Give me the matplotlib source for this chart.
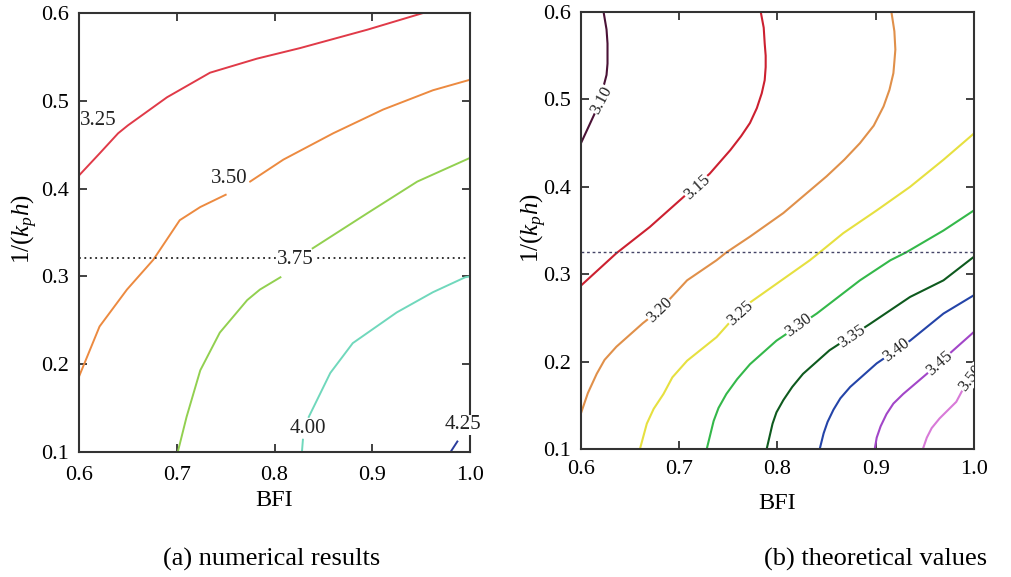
import matplotlib
matplotlib.use("Agg")
import matplotlib.pyplot as plt

plt.rcParams['font.family'] = ['Liberation Serif', 'DejaVu Serif']
plt.rcParams['mathtext.fontset'] = 'custom'
plt.rcParams['mathtext.rm'] = 'Liberation Serif'
plt.rcParams['mathtext.it'] = 'Liberation Serif:italic'

# ---------------- data: panel (a) numerical results ----------------
a_levels = ["3.25", "3.50", "3.75", "4.00", "4.25"]
a_colors = ["#e03a48", "#ec8a40", "#92d050", "#70d8bc", "#2a3c9c"]
a_325_x = [0.600, 0.621, 0.640, 0.650, 0.690, 0.734, 0.782, 0.826, 0.895, 0.952]
a_325_y = [0.415, 0.440, 0.463, 0.472, 0.504, 0.532, 0.548, 0.560, 0.581, 0.600]
a_350_x1 = [0.600, 0.621, 0.649, 0.676, 0.703, 0.724, 0.750]
a_350_y1 = [0.186, 0.243, 0.285, 0.319, 0.364, 0.379, 0.393]
a_350_x2 = [0.775, 0.809, 0.860, 0.911, 0.962, 1.000]
a_350_y2 = [0.408, 0.433, 0.463, 0.490, 0.512, 0.524]
a_375_x1 = [0.701, 0.710, 0.724, 0.744, 0.772, 0.785, 0.806]
a_375_y1 = [0.100, 0.140, 0.193, 0.236, 0.273, 0.285, 0.299]
a_375_x2 = [0.839, 0.895, 0.946, 1.000]
a_375_y2 = [0.332, 0.372, 0.408, 0.435]
a_400_x1 = [0.828, 0.829]
a_400_y1 = [0.100, 0.114]
a_400_x2 = [0.835, 0.857, 0.880, 0.925, 0.962, 0.995, 1.000]
a_400_y2 = [0.140, 0.190, 0.224, 0.259, 0.282, 0.299, 0.300]
a_425_x = [0.980, 0.987]
a_425_y = [0.100, 0.112]
a_label_x = [0.620, 0.754, 0.821, 0.834, 0.993]
a_label_y = [0.478, 0.412, 0.319, 0.127, 0.131]
a_ref_y = 0.321

# ---------------- data: panel (b) theoretical values ----------------
b_levels = ["3.10", "3.15", "3.20", "3.25", "3.30", "3.35", "3.40", "3.45", "3.50"]
b_colors = ["#4a1236", "#cc2030", "#e0904a", "#e6e040", "#34b84a",
            "#0e5a1e", "#2444a8", "#a246c8", "#d87ad8"]
b_x = [
    [0.623, 0.626, 0.627, 0.627, 0.626, 0.623, 0.619, 0.614, 0.607, 0.600],
    [0.783, 0.786, 0.787, 0.788, 0.788, 0.787, 0.784, 0.779, 0.772, 0.763,
     0.752, 0.731, 0.701, 0.670, 0.636, 0.600],
    [0.916, 0.919, 0.920, 0.919, 0.918, 0.914, 0.908, 0.898, 0.884, 0.868,
     0.850, 0.806, 0.772, 0.748, 0.738, 0.708, 0.680, 0.663, 0.636, 0.624,
     0.616, 0.607, 0.600],
    [1.000, 0.969, 0.935, 0.901, 0.867, 0.843, 0.833, 0.799, 0.765, 0.738,
     0.708, 0.693, 0.684, 0.674, 0.667, 0.660],
    [1.000, 0.969, 0.931, 0.915, 0.884, 0.840, 0.799, 0.772, 0.759, 0.748,
     0.740, 0.735, 0.728],
    [1.000, 0.969, 0.935, 0.894, 0.853, 0.826, 0.815, 0.806, 0.799, 0.795, 0.789],
    [1.000, 0.969, 0.935, 0.901, 0.874, 0.864, 0.857, 0.851, 0.847, 0.843],
    [1.000, 0.979, 0.952, 0.928, 0.918, 0.911, 0.905, 0.901, 0.899],
    [1.000, 0.982, 0.965, 0.957, 0.952, 0.948],
]
b_y = [
    [0.600, 0.580, 0.564, 0.541, 0.528, 0.515, 0.500, 0.484, 0.467, 0.450],
    [0.600, 0.582, 0.564, 0.550, 0.537, 0.522, 0.507, 0.490, 0.473, 0.458,
     0.442, 0.415, 0.385, 0.354, 0.324, 0.287],
    [0.600, 0.578, 0.557, 0.543, 0.530, 0.511, 0.492, 0.470, 0.450, 0.431,
     0.412, 0.370, 0.343, 0.325, 0.316, 0.293, 0.259, 0.244, 0.217, 0.202,
     0.186, 0.164, 0.141],
    [0.461, 0.431, 0.400, 0.373, 0.347, 0.325, 0.316, 0.289, 0.262, 0.228,
     0.201, 0.182, 0.163, 0.146, 0.129, 0.100],
    [0.373, 0.350, 0.325, 0.316, 0.293, 0.255, 0.224, 0.197, 0.180, 0.163,
     0.147, 0.132, 0.100],
    [0.320, 0.293, 0.274, 0.243, 0.213, 0.186, 0.171, 0.156, 0.142, 0.129, 0.100],
    [0.276, 0.255, 0.224, 0.198, 0.171, 0.158, 0.145, 0.131, 0.118, 0.100],
    [0.234, 0.213, 0.186, 0.163, 0.152, 0.140, 0.126, 0.113, 0.100],
    [0.192, 0.154, 0.135, 0.124, 0.113, 0.100],
]
b_label_x = [0.621, 0.718, 0.680, 0.762, 0.821, 0.876, 0.921, 0.965, 0.9966]
b_label_y = [0.499, 0.400, 0.259, 0.255, 0.242, 0.229, 0.213, 0.198, 0.1808]
b_label_rot = [62, 42, 44, 42, 36, 34, 37, 41, 52]
b_ref_y = 0.325

xticks = [0.6, 0.7, 0.8, 0.9, 1.0]
yticks = [0.1, 0.2, 0.3, 0.4, 0.5, 0.6]

fig = plt.figure(figsize=(10.12, 5.77), dpi=100)
axA = fig.add_axes([0.0781, 0.2166, 0.3864, 0.7609])
axB = fig.add_axes([0.5741, 0.2218, 0.3883, 0.7574])

for ax in (axA, axB):
    ax.set_xlim(0.6, 1.0)
    ax.set_ylim(0.1, 0.6)
    ax.set_xticks(xticks)
    ax.set_yticks(yticks)
    ax.set_xticklabels([f"{v:.1f}" for v in xticks])
    ax.set_yticklabels([f"{v:.1f}" for v in yticks])
    ax.tick_params(direction='in', top=True, right=True, length=6, width=1.3,
                   labelsize=16, color='#333333')
    ax.tick_params(axis='y', pad=7)
    for s in ax.spines.values():
        s.set_linewidth(1.5)
        s.set_color('#333333')
    ax.set_xlabel("BFI", fontsize=17.5, va='center')
    ax.set_ylabel(r"$\mathregular{1/(}k_p h\mathregular{)}$", fontsize=18,
                  va='center', ha='center')

axA.tick_params(axis='x', pad=10)
axB.tick_params(axis='x', pad=8)
axA.xaxis.set_label_coords(0.5, -(500 - 452) / 439)
axB.xaxis.set_label_coords(0.5, -(503 - 449) / 437)
axA.yaxis.set_label_coords((25 - 79) / 391, (452 - 229) / 439)
axB.yaxis.set_label_coords((534 - 581) / 393, (449 - 228) / 437)

# panel (a)
lw = 1.4
axA.plot(a_325_x, a_325_y, color=a_colors[0], lw=lw)
axA.plot(a_350_x1, a_350_y1, color=a_colors[1], lw=lw)
axA.plot(a_350_x2, a_350_y2, color=a_colors[1], lw=lw)
axA.plot(a_375_x1, a_375_y1, color=a_colors[2], lw=lw)
axA.plot(a_375_x2, a_375_y2, color=a_colors[2], lw=lw)
axA.plot(a_400_x1, a_400_y1, color=a_colors[3], lw=lw)
axA.plot(a_400_x2, a_400_y2, color=a_colors[3], lw=lw)
axA.plot(a_425_x, a_425_y, color=a_colors[4], lw=lw)
axA.axhline(a_ref_y, color='#222222', lw=1.3, ls=(0, (1, 2)))
for t, x, y in zip(a_levels, a_label_x, a_label_y):
    axA.text(x, y, t, fontsize=15, ha='center', va='center', color='#222222',
             bbox=dict(facecolor='white', edgecolor='none', pad=0.5), zorder=5)

# panel (b)
for xs, ys, c in zip(b_x, b_y, b_colors):
    axB.plot(xs, ys, color=c, lw=1.5)
axB.axhline(b_ref_y, color='#444466', lw=1.0, ls=(0, (2, 2)))
for t, x, y, r in zip(b_levels, b_label_x, b_label_y, b_label_rot):
    axB.text(x, y, t, fontsize=12, ha='center', va='center', rotation=r,
             color='#222222', rotation_mode='anchor', clip_on=True,
             bbox=dict(facecolor='white', edgecolor='none', pad=0.3), zorder=5)

fig.text(0.268, 0.031, "(a) numerical results", fontsize=19, ha='center', va='center')
fig.text(0.865, 0.031, "(b) theoretical values", fontsize=19, ha='center', va='center')

fig.savefig("out.png", dpi=100)
